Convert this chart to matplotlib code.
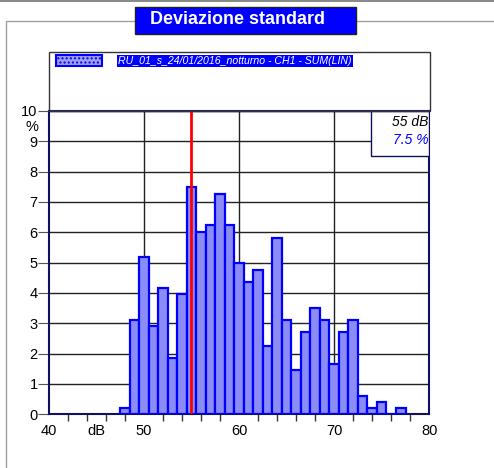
import numpy as np
import matplotlib
matplotlib.use('Agg')
import matplotlib.pyplot as plt
from matplotlib.patches import Rectangle

plt.rcParams['font.family'] = ['Liberation Sans', 'DejaVu Sans']

# classi in dB (centri) e percentuali
livelli = [48, 49, 50, 51, 52, 53, 54, 55, 56, 57, 58, 59, 60, 61, 62,
           63, 64, 65, 66, 67, 68, 69, 70, 71, 72, 73, 74, 75, 76, 77]
percentuali = [0.2, 3.1, 5.2, 2.9, 4.15, 1.85, 3.95, 7.5, 6.0, 6.25, 7.25, 6.25, 5.0, 4.35, 4.75,
               2.25, 5.8, 3.1, 1.45, 2.7, 3.5, 3.1, 1.65, 2.7, 3.1, 0.6, 0.2, 0.4, 0.0, 0.2]
x_etichette = ['40', 'dB', '50', '60', '70', '80']
x_pos_etichette = [40, 45, 50, 60, 70, 80]
livello_rif = 55
perc_rif = 7.5
titolo = 'Deviazione standard'
legenda = 'RU_01_s_24/01/2016_notturno - CH1 - SUM(LIN)'

W, H = 494, 468
fig = plt.figure(figsize=(W / 100, H / 100), dpi=100)

def fx(px):
    return px / W

def fy(py):
    return 1 - py / H

# riga grigia in alto e cornice esterna
fig.add_artist(Rectangle((0, fy(2)), 1, 2 / H, transform=fig.transFigure,
                         facecolor='#8a8a8a', edgecolor='none'))
fig.add_artist(Rectangle((fx(6), fy(480)), fx(500), 459 / H, transform=fig.transFigure,
                         facecolor='none', edgecolor='#a0a0a0', lw=1))

# titolo
fig.add_artist(Rectangle((fx(135), fy(34)), fx(221), 27 / H, transform=fig.transFigure,
                         facecolor='#0000ff', edgecolor='#222222', lw=1))
fig.text(fx(237), fy(19.5), titolo, color='white', fontsize=13, fontweight='bold',
         ha='center', va='center')

# box legenda
fig.add_artist(Rectangle((fx(48.5), fy(111)), fx(381), 59 / H, transform=fig.transFigure,
                         facecolor='none', edgecolor='#333333', lw=1))
fig.add_artist(Rectangle((fx(56), fy(66)), fx(46), 11 / H, transform=fig.transFigure,
                         facecolor='#a0a0f0', edgecolor='#0000ff', lw=1.5, hatch='....'))
fig.text(fx(118), fy(61), legenda, color='white', fontsize=7.6, style='italic',
         ha='left', va='center',
         bbox=dict(boxstyle='square,pad=0.1', facecolor='#0000ff', edgecolor='none'))

ax = fig.add_axes([fx(48.7), fy(414.3), fx(380.6), (414.3 - 111) / H])
ax.bar(livelli, percentuali, width=1.0, color='#8c8cf6', edgecolor='#0000ff',
       linewidth=1.6, zorder=3)
ax.axvline(livello_rif, color='#ff0000', lw=2, zorder=4)

ax.set_xlim(40, 80)
ax.set_ylim(0, 10)
ax.set_yticks(range(0, 11))
ax.set_xticks(x_pos_etichette)
ax.set_xticklabels(x_etichette)
ax.set_xticks(range(40, 81, 2), minor=True)
ax.tick_params(axis='x', which='major', length=0, labelsize=10.5, pad=7)
ax.tick_params(axis='x', which='minor', length=5, color='#333333', width=1)
ax.tick_params(axis='y', length=8, color='#555555', labelsize=10.5, pad=0)
ax.yaxis.grid(True, color='#222222', lw=1, zorder=1)
for xv in [50, 60, 70]:
    ax.axvline(xv, color='#222222', lw=1, zorder=1)
for s in ax.spines.values():
    s.set_color('#101060')
    s.set_linewidth(1.5)
ax.spines['top'].set_color('#20208a')

ax.text(-0.028, 0.948, '%', transform=ax.transAxes, fontsize=10.5, ha='right', va='center')

# box valore di riferimento
ax.add_patch(Rectangle((0.848, 0.85), 0.152, 0.15, transform=ax.transAxes,
                       facecolor='white', edgecolor='#101060', lw=1, zorder=5))
ax.text(0.998, 0.965, '%g dB' % livello_rif, transform=ax.transAxes, fontsize=10,
        style='italic', ha='right', va='center', zorder=6)
ax.text(0.998, 0.906, '%g %%' % perc_rif, transform=ax.transAxes, fontsize=10,
        style='italic', color='#0000ff', ha='right', va='center', zorder=6)

fig.savefig('out.png', dpi=100)
